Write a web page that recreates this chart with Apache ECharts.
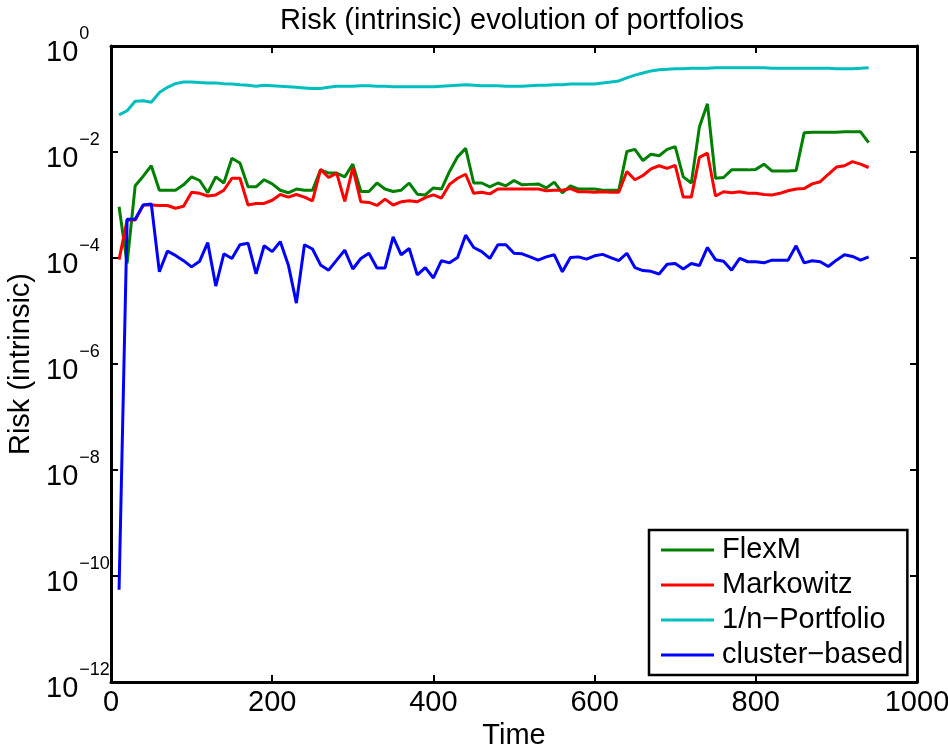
<!DOCTYPE html>
<html>
<head>
<meta charset="utf-8">
<script src="https://cdn.jsdelivr.net/npm/echarts@6/dist/echarts.min.js"></script>
<style>html,body{margin:0;padding:0;background:#fff}#c{width:948px;height:749px}</style>
</head>
<body>
<div id="c"></div>
<script>
const times = [10,20,30,40,50,60,70,80,90,100,110,120,130,140,150,160,170,180,190,200,
210,220,230,240,250,260,270,280,290,300,310,320,330,340,350,360,370,380,390,400,
410,420,430,440,450,460,470,480,490,500,510,520,530,540,550,560,570,580,590,600,
610,620,630,640,650,660,670,680,690,700,710,720,730,740,750,760,770,780,790,800,
810,820,830,840,850,860,870,880,890,900,910,920,930,940];

const flexM = [9.3e-4,7.9e-5,2.3e-3,3.5e-3,5.5e-3,1.9e-3,1.9e-3,1.9e-3,2.4e-3,3.4e-3,
2.9e-3,1.7e-3,3.4e-3,2.6e-3,7.6e-3,6.2e-3,2.2e-3,2.2e-3,3.0e-3,2.5e-3,
1.9e-3,1.7e-3,2.0e-3,1.9e-3,1.9e-3,4.6e-3,4.0e-3,4.0e-3,3.4e-3,5.9e-3,
1.8e-3,1.8e-3,2.6e-3,2.0e-3,1.8e-3,1.9e-3,2.6e-3,1.6e-3,1.55e-3,2.1e-3,
2.0e-3,4.3e-3,8.1e-3,1.17e-2,2.6e-3,2.6e-3,2.2e-3,2.6e-3,2.3e-3,2.9e-3,
2.4e-3,2.45e-3,2.5e-3,2.1e-3,2.7e-3,1.7e-3,2.3e-3,2.0e-3,2.0e-3,2.0e-3,
1.9e-3,1.9e-3,1.9e-3,1.02e-2,1.12e-2,6.9e-3,9.1e-3,8.5e-3,1.12e-2,1.26e-2,
3.4e-3,2.6e-3,2.95e-2,8.1e-2,3.2e-3,3.3e-3,4.6e-3,4.6e-3,4.6e-3,4.7e-3,
5.9e-3,4.4e-3,4.4e-3,4.4e-3,4.5e-3,2.3e-2,2.35e-2,2.35e-2,2.35e-2,2.35e-2,
2.4e-2,2.4e-2,2.4e-2,1.5e-2];

const markowitz = [9.3e-5,5.2e-4,5.2e-4,1.0e-3,1.0e-3,9.8e-4,9.8e-4,8.7e-4,9.5e-4,1.74e-3,
1.66e-3,1.48e-3,1.55e-3,1.9e-3,3.2e-3,3.2e-3,1.0e-3,1.07e-3,1.07e-3,1.23e-3,
1.58e-3,1.41e-3,1.58e-3,1.41e-3,1.2e-3,4.7e-3,3.3e-3,4.0e-3,1.17e-3,5.0e-3,
1.15e-3,1.12e-3,9.8e-4,1.29e-3,1.0e-3,1.15e-3,1.2e-3,1.15e-3,1.38e-3,1.55e-3,
1.35e-3,2.45e-3,3.2e-3,3.8e-3,1.66e-3,1.74e-3,1.62e-3,2.0e-3,2.0e-3,2.0e-3,
2.0e-3,2.0e-3,2.0e-3,1.86e-3,1.9e-3,1.9e-3,2.04e-3,1.78e-3,1.78e-3,1.74e-3,
1.78e-3,1.74e-3,1.74e-3,4.3e-3,3.0e-3,3.6e-3,4.8e-3,5.5e-3,4.9e-3,5.6e-3,
1.41e-3,1.41e-3,7.9e-3,9.5e-3,1.48e-3,1.78e-3,1.7e-3,1.78e-3,1.66e-3,1.66e-3,
1.58e-3,1.55e-3,1.66e-3,1.86e-3,2.0e-3,2.04e-3,2.5e-3,2.75e-3,3.8e-3,5.2e-3,
5.5e-3,6.6e-3,5.9e-3,5.1e-3];

const oneOverN = [0.050,0.060,0.091,0.093,0.087,0.132,0.166,0.195,0.209,0.209,
0.204,0.200,0.200,0.195,0.191,0.186,0.182,0.174,0.182,0.178,
0.174,0.170,0.166,0.162,0.158,0.158,0.166,0.174,0.174,0.174,
0.178,0.178,0.174,0.174,0.170,0.170,0.170,0.170,0.170,0.170,
0.174,0.178,0.182,0.186,0.182,0.178,0.178,0.178,0.174,0.174,
0.174,0.178,0.182,0.182,0.186,0.186,0.191,0.191,0.191,0.191,
0.200,0.209,0.219,0.251,0.282,0.309,0.339,0.355,0.363,0.372,
0.372,0.380,0.380,0.380,0.389,0.389,0.389,0.389,0.389,0.389,
0.389,0.380,0.380,0.380,0.380,0.380,0.380,0.380,0.380,0.372,
0.372,0.372,0.380,0.389];

const clusterBased = [5.5e-11,5.4e-4,5.4e-4,1.0e-3,1.05e-3,5.5e-5,1.35e-4,1.12e-4,8.9e-5,6.8e-5,
8.7e-5,1.95e-4,2.95e-5,1.2e-4,9.8e-5,1.78e-4,1.9e-4,5.0e-5,1.7e-4,1.32e-4,
2.04e-4,7.4e-5,1.41e-5,1.78e-4,1.48e-4,7.4e-5,5.9e-5,9.1e-5,1.41e-4,6.2e-5,
9.8e-5,1.23e-4,6.5e-5,6.5e-5,2.5e-4,1.15e-4,1.51e-4,4.8e-5,6.6e-5,4.2e-5,
8.9e-5,8.1e-5,1.02e-4,2.7e-4,1.58e-4,1.32e-4,9.8e-5,1.78e-4,1.78e-4,1.23e-4,
1.2e-4,1.05e-4,9.1e-5,1.05e-4,1.15e-4,5.5e-5,1.02e-4,1.05e-4,9.5e-5,1.1e-4,
1.17e-4,1.02e-4,8.9e-5,1.23e-4,6.6e-5,5.8e-5,5.6e-5,5.0e-5,7.6e-5,7.9e-5,
6.2e-5,7.9e-5,7.2e-5,1.58e-4,9.3e-5,8.7e-5,5.9e-5,9.8e-5,8.5e-5,8.5e-5,
8.1e-5,9.1e-5,9.1e-5,9.1e-5,1.7e-4,8.1e-5,8.9e-5,8.5e-5,6.9e-5,9.1e-5,
1.15e-4,1.07e-4,9.1e-5,1.05e-4];

const seriesNames = ['FlexM', 'Markowitz', '1/n\u2212Portfolio', 'cluster\u2212based'];
const seriesColors = ['#008000', '#ff0000', '#00bfbf', '#0000ff'];
const seriesValues = [flexM, markowitz, oneOverN, clusterBased];
const xTicks = [0, 200, 400, 600, 800, 1000];

const FONT = "'Liberation Sans', Arial, Helvetica, sans-serif";
const FS = 29;
const chart = echarts.init(document.getElementById('c'), null, {renderer: 'canvas'});

function pairs(vals) { return times.map((t, i) => [t, vals[i]]); }

const frameLine = {show: true, onZero: false, lineStyle: {color: '#000', width: 3}};
const ticksIn = {show: true, inside: true, length: 7, lineStyle: {color: '#000', width: 2}};

chart.setOption({
  animation: false,
  backgroundColor: '#fff',
  title: {
    text: 'Risk (intrinsic) evolution of portfolios',
    left: 507, top: 1, textAlign: 'center',
    textStyle: {fontFamily: FONT, fontSize: FS, fontWeight: 'normal', color: '#000'}
  },
  grid: {left: 111, right: 31, top: 46, bottom: 67, containLabel: false, outerBoundsMode: 'none'},
  legend: {
    orient: 'vertical',
    left: 649, top: 530,
    data: seriesNames,
    icon: 'rect',
    itemWidth: 53, itemHeight: 3, itemGap: 3,
    padding: [4, 4, 4, 12],
    borderColor: '#000', borderWidth: 2.5, backgroundColor: '#fff',
    textStyle: {fontFamily: FONT, fontSize: FS, color: '#000', lineHeight: 32, padding: [0, 0, 0, 3]}
  },
  xAxis: [
    {type: 'value', min: 0, max: 1000, interval: 200, position: 'bottom',
     axisLine: frameLine, axisTick: ticksIn, splitLine: {show: false},
     axisLabel: {show: true, margin: 6, fontFamily: FONT, fontSize: FS, color: '#000',
                 hideOverlap: false, showMinLabel: true, showMaxLabel: true,
                 formatter: v => String(v)},
     name: 'Time', nameLocation: 'middle', nameGap: 38,
     nameTextStyle: {fontFamily: FONT, fontSize: FS, color: '#000'}},
    {type: 'value', min: 0, max: 1000, interval: 200, position: 'top',
     axisLine: frameLine, axisTick: ticksIn, splitLine: {show: false},
     axisLabel: {show: false}}
  ],
  yAxis: [
    {type: 'log', logBase: 10, min: 1e-12, max: 1, interval: 2, position: 'left',
     axisLine: frameLine, axisTick: ticksIn, splitLine: {show: false}, minorTick: {show: false},
     axisLabel: {show: true, margin: 65, align: 'left', color: '#000', showMinLabel: true, showMaxLabel: true,
       formatter: function (v) {
         const e = Math.round(Math.log10(v));
         return '{b|10}{s|' + (e < 0 ? '\u2212' + (-e) : String(e)) + '}';
       },
       rich: {
         b: {fontFamily: FONT, fontSize: FS, color: '#000', lineHeight: 42, verticalAlign: 'bottom', padding: [16, 0, 0, 0]},
         s: {fontFamily: FONT, fontSize: 18, color: '#000', lineHeight: 42, verticalAlign: 'top', padding: [0, 0, 16, 1]}
       }},
     name: 'Risk (intrinsic)', nameLocation: 'middle', nameGap: 71, nameRotate: 90,
     nameTextStyle: {fontFamily: FONT, fontSize: FS, color: '#000'}},
    {type: 'log', logBase: 10, min: 1e-12, max: 1, interval: 2, position: 'right',
     axisLine: frameLine, axisTick: ticksIn, splitLine: {show: false}, minorTick: {show: false},
     axisLabel: {show: false}}
  ],
  series: seriesNames.map((n, i) => ({
    name: n, type: 'line', xAxisIndex: 0, yAxisIndex: 0,
    data: pairs(seriesValues[i]),
    symbol: 'none', showSymbol: false,
    lineStyle: {color: seriesColors[i], width: 3},
    itemStyle: {color: seriesColors[i]},
    z: 2
  }))
});
</script>
</body>
</html>
